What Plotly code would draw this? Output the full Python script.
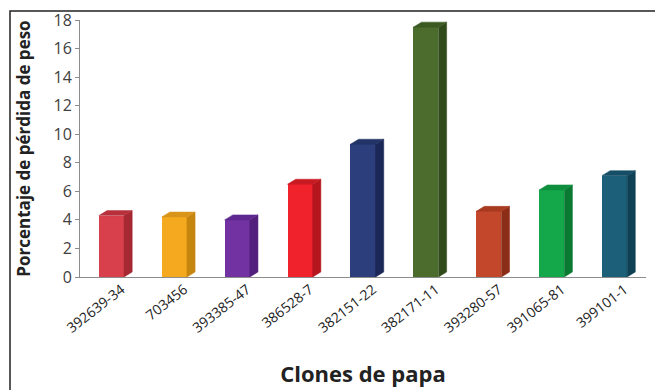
import plotly.graph_objects as go

clones = ["392639-34", "703456", "393385-47", "386528-7", "382151-22",
          "382171-11", "393280-57", "391065-81", "399101-1"]
perdida = [4.3, 4.2, 4.0, 6.5, 9.3, 17.5, 4.6, 6.1, 7.1]
front_colors = ["#D8414C", "#F5A91E", "#7232A2", "#F0222C", "#2C3E7C",
                "#4B6C2C", "#C2472B", "#14A84B", "#1B5F79"]
side_colors = ["#A52833", "#C6850F", "#52207C", "#B5161E", "#1B2757",
               "#304A1A", "#8C2D17", "#0A7A33", "#0E4155"]
top_colors = ["#B8303B", "#D8951A", "#5E2890", "#C81A22", "#223366",
              "#3B5A22", "#A83A20", "#0E8F3E", "#154E66"]
y_ticks = [0, 2, 4, 6, 8, 10, 12, 14, 16, 18]

W, H = 655, 390
ML, MR, MT, MB = 80, 9, 20, 113
half = 0.2
dx, dy = 0.13, 0.35

x_idx = list(range(len(clones)))
fig = go.Figure()

# 3D side and top faces derived from the data values
for i, v in enumerate(perdida):
    fig.add_trace(go.Scatter(
        x=[i + half, i + half + dx, i + half + dx, i + half, i + half],
        y=[0, dy, v + dy, v, 0],
        fill="toself", fillcolor=side_colors[i], mode="lines",
        line=dict(width=0.5, color=side_colors[i]), hoverinfo="skip",
        showlegend=False))
    fig.add_trace(go.Scatter(
        x=[i - half, i - half + dx, i + half + dx, i + half, i - half],
        y=[v, v + dy, v + dy, v, v],
        fill="toself", fillcolor=top_colors[i], mode="lines",
        line=dict(width=0.5, color=top_colors[i]), hoverinfo="skip",
        showlegend=False))

fig.add_trace(go.Bar(
    x=x_idx, y=perdida, width=2 * half,
    marker=dict(color=front_colors, line=dict(width=0)),
    showlegend=False))

x0p = (10 - ML) / (W - ML - MR)
x1p = (W + 20 - ML) / (W - ML - MR)
y1p = 1 + (MT - 11) / (H - MT - MB)
y0p = -(MB + 20) / (H - MT - MB)

fig.update_layout(
    width=W, height=H,
    margin=dict(l=ML, r=MR, t=MT, b=MB),
    paper_bgcolor="white", plot_bgcolor="white",
    font=dict(family="Open Sans, Liberation Sans, sans-serif", color="#404040"),
    bargap=0,
    xaxis=dict(
        range=[-0.5, 8.5], tickmode="array", tickvals=x_idx, ticktext=clones,
        tickangle=-38, tickfont=dict(size=14, color="#222222"),
        ticklabelshift=10, ticklabelstandoff=-2,
        showline=True, linecolor="#8C8C8C", linewidth=1, showgrid=False,
        zeroline=False, ticks="",
        title=dict(text="<b>Clones de papa</b>",
                   font=dict(size=22, color="#222222"), standoff=30),
    ),
    yaxis=dict(
        range=[0, 18], tickmode="array", tickvals=y_ticks,
        tickfont=dict(size=16, color="#404040"),
        showline=True, linecolor="#8C8C8C", linewidth=1, showgrid=False,
        zeroline=False, ticks="outside", ticklen=4, tickcolor="#8C8C8C",
        title=dict(text="<b>Porcentaje de pérdida de peso</b>",
                   font=dict(size=17, color="#222222"), standoff=18),
    ),
    shapes=[dict(type="rect", xref="paper", yref="paper",
                 x0=x0p, x1=x1p, y0=y0p, y1=y1p,
                 line=dict(color="#222222", width=1.5), layer="below")],
)

fig.write_html("out.html")
